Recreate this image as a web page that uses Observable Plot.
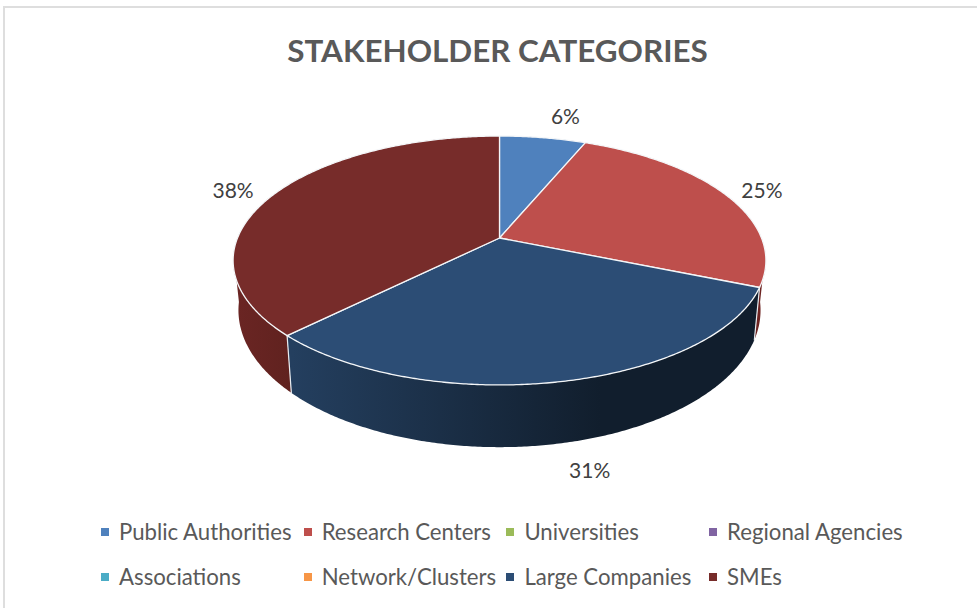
<!DOCTYPE html>
<html>
<head>
<meta charset="utf-8">
<script src="https://cdn.jsdelivr.net/npm/d3@7"></script>
<script src="https://cdn.jsdelivr.net/npm/@observablehq/plot@0.6"></script>
<style>
  html, body { margin: 0; padding: 0; background: #fff; overflow: hidden; width: 977px; height: 608px; }
  #frame { position: absolute; left: 3px; top: 6px; width: 1000px; height: 700px; border: 2px solid #dedede; box-sizing: border-box; }
  #chart { position: absolute; left: 0; top: 0; }
  #title { position: absolute; left: 0; top: 31px; width: 995px; text-align: center; font: 700 31.4px Lato, sans-serif; color: #595959; white-space: nowrap; }
  #legend { position: absolute; left: 101px; top: 509px; display: grid; grid-template-columns: repeat(4, 202.7px); grid-auto-rows: 45px; font: 400 22.2px Lato, sans-serif; color: #595959; }
  #legend div { display: flex; align-items: center; white-space: nowrap; height: 45px; }
  #legend i { width: 8px; height: 8px; margin-right: 10px; flex: none; }
</style>
</head>
<body>
<div id="frame"></div>
<div id="chart"></div>
<div id="title">STAKEHOLDER CATEGORIES</div>
<div id="legend"></div>
<script>
const categories = ["Public Authorities", "Research Centers", "Universities", "Regional Agencies", "Associations", "Network/Clusters", "Large Companies", "SMEs"];
const shares = [6.25, 25, 0, 0, 0, 0, 31.25, 37.5];
const topColors = ["#4f81bd", "#be4f4c", "#9bbb59", "#8064a2", "#4bacc6", "#f79646", "#2c4d75", "#772c2a"];
const sideLeft = ["#3f6796", "#6d2422", "#7c9647", "#665082", "#3c8a9e", "#c67838", "#243f5f", "#6a2523"];
const sideRight = ["#3f6796", "#6d2422", "#7c9647", "#665082", "#3c8a9e", "#c67838", "#111e2d", "#60221f"];

// Layout of the tilted pie (perspective view of a disc)
const view = { cx: 499, top: 237.5, bottom: 285, k: 262, m: 120.4, p: 0.1807, shrinkX: 0.98, stretchY: 1.1 };
const gradientSpan = { "Large Companies": [291, 600], "SMEs": [237, 291] };
const labelNudge = { "Public Authorities": [22.5, -20], "Research Centers": [36, -4], "Large Companies": [28, 90], "SMEs": [-40, -4] };
// Angular limits of each visible outer wall: the wall ends where it turns behind the top disc
const wallLimits = { "Research Centers": [97, 112.5], "Large Companies": [112.5, 225], "SMEs": [225, 263] };

const rad = d => d * Math.PI / 180;
function ring(deg) {
  const u = Math.sin(rad(deg)), v = Math.cos(rad(deg)), w = 1 + view.p * v;
  return { u: u / w, v: v / w };
}
const topPt = deg => { const r = ring(deg); return [view.cx + view.k * r.u, view.top - view.m * r.v]; };
const botPt = deg => { const r = ring(deg); return [view.cx + view.shrinkX * view.k * r.u, view.bottom - view.stretchY * view.m * r.v]; };

let cum = 0;
const slices = [];
categories.forEach((name, i) => {
  const start = cum * 3.6; cum += shares[i]; const end = cum * 3.6;
  if (shares[i] > 0) slices.push({ name, i, start, end, share: shares[i] });
});

function arcAngles(start, end) {
  const out = [];
  for (let a = start; a < end; a += 0.5) out.push(a);
  out.push(end);
  return out;
}
const xy = p => ({ x: p[0], y: p[1] });
const sideRowsFor = s => {
  const angles = arcAngles(...wallLimits[s.name]);
  return [...angles.map(a => xy(topPt(a))), ...angles.slice().reverse().map(a => xy(botPt(a)))];
};
const topRowsFor = s => [{ x: view.cx, y: view.top }, ...arcAngles(s.start, s.end).map(a => xy(topPt(a)))];

const wallRows = slices.filter(s => s.name === "SMEs" || s.name === "Large Companies").flatMap(s => {
  const a = s.start;
  return [{ id: s.name, ...xy(topPt(a)) }, { id: s.name, ...xy(botPt(a)) }];
});

const labelRows = slices.map(s => {
  const p = topPt((s.start + s.end) / 2), n = labelNudge[s.name];
  return { x: p[0] + n[0], y: p[1] + n[1], text: `${Math.round(s.share)}%` };
});

const gradientId = s => `side-${s.i}`;
const gradientDefs = () => {
  const defs = d3.create("svg:defs");
  for (const s of slices) {
    const span = gradientSpan[s.name] || [0, 977];
    const g = defs.append("linearGradient").attr("id", gradientId(s)).attr("gradientUnits", "userSpaceOnUse")
      .attr("x1", span[0]).attr("x2", span[1]).attr("y1", 0).attr("y2", 0);
    g.append("stop").attr("offset", 0).attr("stop-color", sideLeft[s.i]);
    g.append("stop").attr("offset", 1).attr("stop-color", sideRight[s.i]);
  }
  return defs.node();
};

// back slices first, so the nearer walls paint over them
const sideOrder = ["Research Centers", "SMEs", "Large Companies"];
const orderedSlices = sideOrder.map(n => slices.find(s => s.name === n));

const plot = Plot.plot({
  width: 977, height: 608, margin: 0,
  x: { domain: [0, 977], range: [0, 977], axis: null },
  y: { domain: [0, 608], range: [0, 608], axis: null },
  style: { background: "transparent" },
  marks: [
    gradientDefs,
    ...orderedSlices.map(s => Plot.line(sideRowsFor(s), { x: "x", y: "y", fill: `url(#${gradientId(s)})`, stroke: "none", curve: "linear-closed" })),
    Plot.line(wallRows, { x: "x", y: "y", z: "id", stroke: "#e8ecf0", strokeWidth: 1.2 }),
    ...slices.map(s => Plot.line(topRowsFor(s), { x: "x", y: "y", fill: topColors[s.i], stroke: "#f4f6f8", strokeWidth: 1.3, curve: "linear-closed" })),
    Plot.text(labelRows, { x: "x", y: "y", text: "text", fill: "#404040", fontSize: 21, fontFamily: "Lato, sans-serif" })
  ]
});
document.getElementById("chart").appendChild(plot);

const legend = d3.select("#legend");
categories.forEach((name, i) => {
  const row = legend.append("div");
  row.append("i").style("background", topColors[i]);
  row.append("span").text(name);
});
</script>
</body>
</html>
